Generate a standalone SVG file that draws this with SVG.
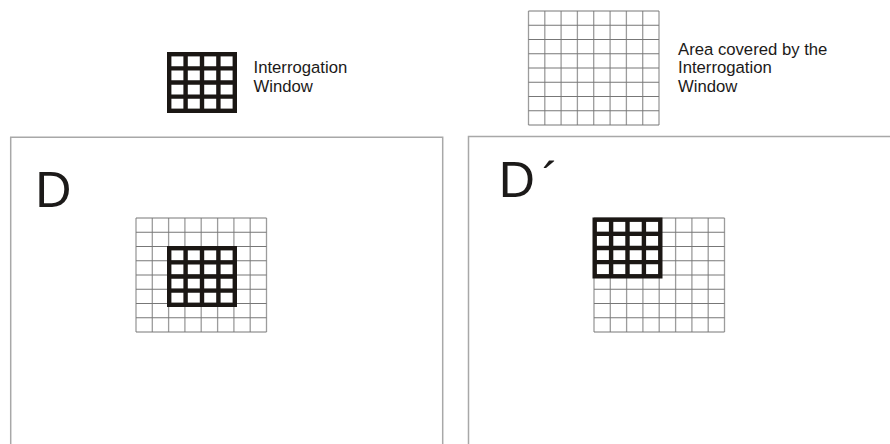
<svg xmlns="http://www.w3.org/2000/svg" xmlns:xlink="http://www.w3.org/1999/xlink" width="890" height="444" viewBox="0 0 890 444">
<style>
.lbl{font-family:"Liberation Sans",Arial,sans-serif;font-size:16.7px;fill:#1c1a19}
.big{font-family:"Liberation Sans",Arial,sans-serif;font-size:50px;fill:#1c1a19}
.panel{fill:none;stroke:#a8a8a8;stroke-width:1.5}
.gv{stroke:#9c9c9c;stroke-width:1.3;fill:none}
.gh{stroke:#777;stroke-width:1;fill:none}
.win{fill:none;stroke:#1b1714;stroke-width:4.4}
</style>
<defs>
<g id="grid">
<rect x="0" y="0" width="130.5" height="114" fill="#fff"/>
<path class="gv" d="M0 0V114M16.3 0V114M32.6 0V114M48.9 0V114M65.2 0V114M81.6 0V114M97.9 0V114M114.2 0V114M130.5 0V114"/>
<path class="gh" d="M0 0H130.5M0 14.25H130.5M0 28.5H130.5M0 42.75H130.5M0 57H130.5M0 71.25H130.5M0 85.5H130.5M0 99.75H130.5M0 114H130.5"/>
</g>
<g id="win">
<rect x="2.2" y="2.2" width="65.6" height="56.6" fill="#fff" class="win"/>
<path class="win" d="M18.6 2V59M35 2V59M51.4 2V59M2 16.35H68M2 30.5H68M2 44.65H68"/>
</g>
</defs>

<g id="legend-window">
<use xlink:href="#win" x="167" y="52"/>
<text class="lbl" x="253.5" y="73">Interrogation</text>
<text class="lbl" x="253.5" y="91.5">Window</text>
</g>

<g id="legend-area">
<use xlink:href="#grid" x="528.5" y="11"/>
<text class="lbl" x="678" y="55">Area covered by the</text>
<text class="lbl" x="678" y="73.3">Interrogation</text>
<text class="lbl" x="678" y="91.6">Window</text>
</g>

<g id="panel-D">
<path class="panel" d="M10.7 444V137.3H442.7V444"/>
<text class="big" x="35.3" y="206.5">D</text>
<use xlink:href="#grid" x="136" y="218"/>
<use xlink:href="#win" x="167" y="246"/>
</g>

<g id="panel-Dprime">
<path class="panel" d="M468.5 444V136.5H890"/>
<text class="big" x="498.8" y="196.7">D<tspan dx="7">´</tspan></text>
<use xlink:href="#grid" x="594" y="218"/>
<use xlink:href="#win" x="592.5" y="217.5"/>
</g>
</svg>
